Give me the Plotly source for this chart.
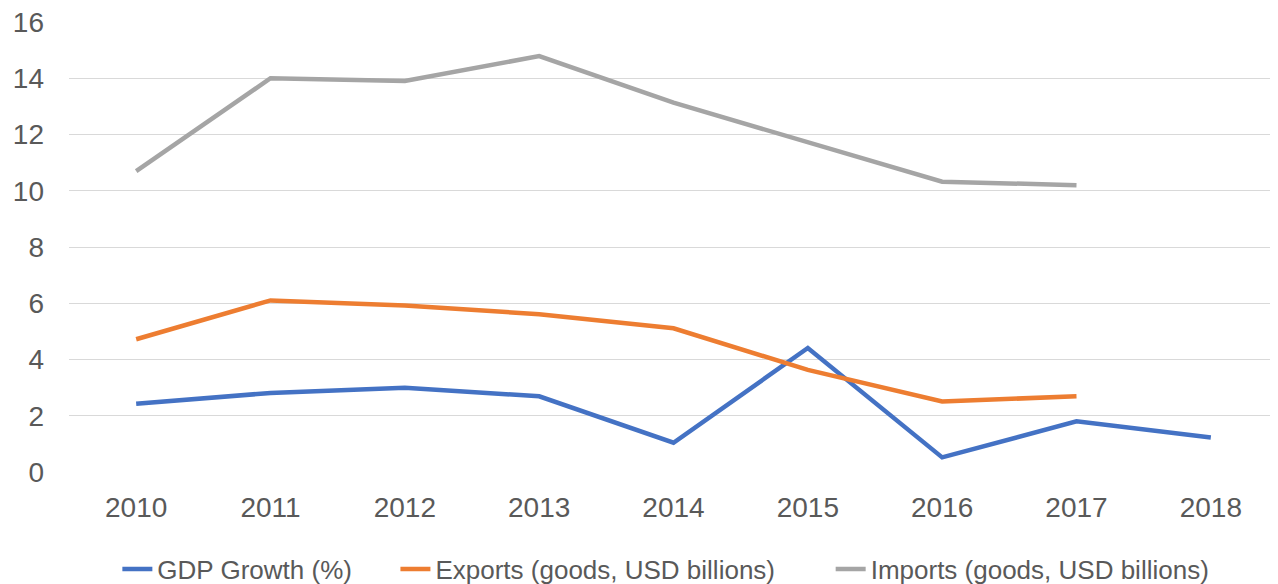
import plotly.graph_objects as go

years = ["2010", "2011", "2012", "2013", "2014", "2015", "2016", "2017", "2018"]
gdp_growth = [2.43, 2.81, 3.0, 2.69, 1.04, 4.41, 0.52, 1.8, 1.23]
exports = [4.72, 6.1, 5.92, 5.61, 5.11, 3.63, 2.51, 2.69]
imports = [10.7, 14.0, 13.9, 14.79, 13.13, 11.73, 10.32, 10.2]

series_names = ["GDP Growth (%)", "Exports (goods, USD billions)", "Imports (goods, USD billions)"]
colors = ["#4472C4", "#ED7D31", "#A5A5A5"]
legend_ids = ["legend", "legend2", "legend3"]
legend_x = [0.040, 0.270, 0.630]

fig = go.Figure()
for name, vals, col, lg in zip(series_names, [gdp_growth, exports, imports], colors, legend_ids):
    fig.add_trace(go.Scatter(
        x=years[:len(vals)], y=vals, mode="lines", name=name, legend=lg,
        line=dict(color=col, width=4.5, shape="linear"),
    ))

font_family = "Liberation Sans, Arial, sans-serif"
legend_style = dict(orientation="h", xanchor="left", y=-0.216, yanchor="middle",
                    font=dict(size=26, color="#595959"), bgcolor="rgba(0,0,0,0)")
layout_legends = {lg: dict(x=lx, **legend_style) for lg, lx in zip(legend_ids, legend_x)}

fig.update_layout(
    width=1278, height=584,
    margin=dict(l=61, r=8, t=14, b=120, autoexpand=False),
    plot_bgcolor="white", paper_bgcolor="white",
    font=dict(family=font_family, color="#595959", size=28),
    showlegend=True,
    xaxis=dict(type="category", range=[-0.5, 8.5], showgrid=False, showline=False, zeroline=False,
               ticks="", tickfont=dict(size=28, color="#595959"), ticklabelstandoff=16,
               automargin=False, ticklabeloverflow="allow"),
    yaxis=dict(range=[0, 16], dtick=2, showgrid=True, gridcolor="#D9D9D9", gridwidth=1.3,
               zeroline=False, showline=False, ticks="",
               tickfont=dict(size=28, color="#595959"), ticklabelstandoff=24,
               automargin=False, ticklabeloverflow="allow"),
    **layout_legends,
)
fig.write_html("out.html")
